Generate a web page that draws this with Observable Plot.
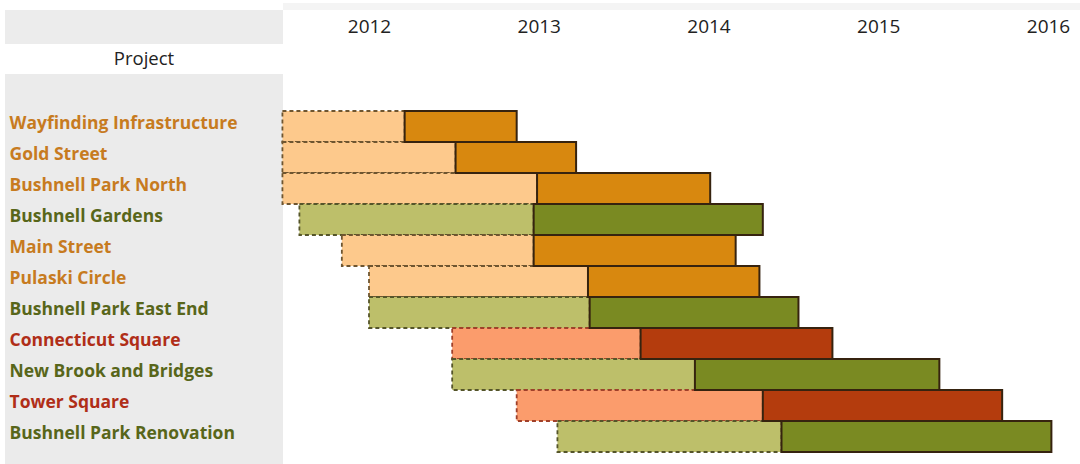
<!DOCTYPE html>
<html>
<head>
<meta charset="utf-8">
<script src="https://cdn.jsdelivr.net/npm/d3@7"></script>
<script src="https://cdn.jsdelivr.net/npm/@observablehq/plot@0.6"></script>
<style>
  html, body { margin: 0; padding: 0; background: #ffffff; }
  #wrap { position: relative; width: 1080px; height: 464px; overflow: hidden; background: #ffffff; }
  .bg { position: absolute; }
  #topline { left: 283px; top: 3px; width: 797px; height: 7px; background: #f4f4f4; }
  #topgray { left: 5px; top: 10px; width: 278px; height: 35px; background: #ececec; }
  #projhead { left: 5px; top: 44px; width: 278px; height: 30px; background: #ffffff;
    font-family: "Open Sans", sans-serif; font-size: 18.5px; color: #222; text-align: center; line-height: 28px; }
  #leftgray { left: 5px; top: 74px; width: 278px; height: 390px; background: #ebebeb; }
  #chart { position: absolute; left: 0; top: 0; }
  #chart svg { background: transparent !important; }
</style>
</head>
<body>
<div id="wrap">
  <div class="bg" id="topline"></div>
  <div class="bg" id="topgray"></div>
  <div class="bg" id="leftgray"></div>
  <div class="bg" id="projhead">Project</div>
  <div id="chart"></div>
</div>
<script>
// ---- data ----
const projects = [
  "Wayfinding Infrastructure", "Gold Street", "Bushnell Park North", "Bushnell Gardens",
  "Main Street", "Pulaski Circle", "Bushnell Park East End", "Connecticut Square",
  "New Brook and Bridges", "Tower Square", "Bushnell Park Renovation"
];
const category = ["orange", "orange", "orange", "green", "orange", "orange", "green", "red", "green", "red", "green"];
const planStart  = [2011.49, 2011.49, 2011.49, 2011.59, 2011.84, 2012.00, 2012.00, 2012.49, 2012.49, 2012.87, 2013.11];
const buildStart = [2012.21, 2012.51, 2012.99, 2012.97, 2012.97, 2013.29, 2013.30, 2013.60, 2013.92, 2014.32, 2014.43];
const buildEnd   = [2012.87, 2013.22, 2014.01, 2014.32, 2014.16, 2014.30, 2014.53, 2014.73, 2015.36, 2015.73, 2016.02];
const years = [2012, 2013, 2014, 2015, 2016];

// ---- styles ----
const lightFill = {orange: "#fdc98c", green: "#bdbf6a", red: "#fb9c6c"};
const darkFill  = {orange: "#d8880f", green: "#7a8a22", red: "#b43c0d"};
const dashStroke = {orange: "#6e5530", green: "#55552a", red: "#a0402a"};
const labelColor = {orange: "#c77b1f", green: "#58661a", red: "#b02e18"};

const rows = projects.map((name, i) => ({
  name, cat: category[i], p0: planStart[i], b0: buildStart[i], b1: buildEnd[i]
}));

const chart = Plot.plot({
  width: 1080,
  height: 464,
  marginTop: 107,
  marginBottom: 9,
  marginLeft: 0,
  marginRight: 0,
  style: {background: "transparent", overflow: "visible"},
  x: {domain: [2011.4, 2016.2], range: [267.15, 1081.95], axis: null},
  y: {domain: projects, padding: 0, axis: null},
  color: {type: "identity"},
  marks: [
    Plot.barX(rows, {
      x1: "p0", x2: "b0", y: "name", inset: 0,
      fill: d => lightFill[d.cat], stroke: d => dashStroke[d.cat],
      strokeWidth: 1.8, strokeDasharray: "4,3"
    }),
    Plot.barX(rows, {
      x1: "b0", x2: "b1", y: "name", inset: 0,
      fill: d => darkFill[d.cat], stroke: "#36230f", strokeWidth: 2
    }),
    Plot.text(rows, {
      y: "name", text: "name", frameAnchor: "left", textAnchor: "start",
      dx: 9, dy: -4, fill: d => labelColor[d.cat],
      fontFamily: "Open Sans", fontWeight: "bold", fontSize: 17.5,
      style: "letter-spacing:-0.5px"
    }),
    Plot.text(years, {
      x: d => d, text: d => String(d), frameAnchor: "top", lineAnchor: "middle",
      dy: -81, fill: "#222", fontFamily: "Open Sans", fontSize: 19
    })
  ]
});
document.getElementById("chart").appendChild(chart);
</script>
</body>
</html>
